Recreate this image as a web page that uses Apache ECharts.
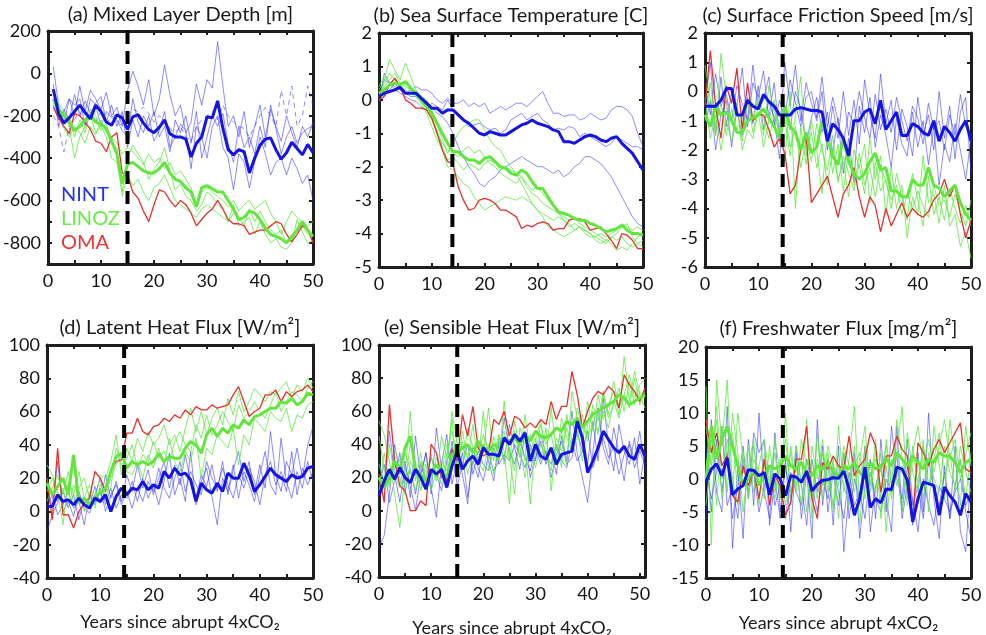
<!DOCTYPE html>
<html><head><meta charset="utf-8">
<script src="https://cdn.jsdelivr.net/npm/echarts@6/dist/echarts.min.js"></script>
<style>html,body{margin:0;padding:0;background:#fff}#c{width:986px;height:635px}</style>
</head><body><div id="c"></div>
<script>
// ---------- (a) Mixed Layer Depth, years 1..50 ----------
const aNint = [-75,-190,-235,-210,-180,-150,-185,-215,-150,-180,
-230,-245,-195,-210,-265,-205,-195,-235,-265,-280,
-255,-220,-285,-300,-300,-310,-395,-330,-300,-205,
-210,-130,-260,-360,-385,-360,-370,-470,-400,-340,
-310,-305,-360,-405,-375,-325,-355,-385,-335,-375];
const aLinoz = [-120,-170,-200,-230,-270,-250,-220,-195,-230,-240,
-260,-320,-380,-520,-430,-420,-440,-460,-470,-470,
-450,-420,-470,-500,-510,-540,-560,-630,-540,-530,
-545,-560,-560,-600,-640,-690,-680,-650,-660,-690,
-730,-760,-770,-780,-800,-770,-740,-700,-740,-770];
const aOma = [-160,-210,-250,-285,-190,-200,-230,-265,-320,-330,
-370,-300,-280,-470,-480,-560,-590,-650,-700,-620,
-550,-560,-600,-630,-600,-620,-660,-720,-690,-660,
-640,-600,-640,-690,-710,-710,-720,-760,-750,-740,
-740,-720,-700,-710,-760,-795,-760,-720,-735,-800];
const aThinB1 = [30,-150,-240,-120,-200,-60,-180,-80,-120,-170,
-90,-200,-160,-250,-80,10,-60,-150,-30,-200,
-120,40,-100,-200,-150,-280,-230,-50,-150,-30,
-70,150,-60,-250,-200,-300,-180,-350,-250,-150,
-300,-170,-250,-320,-200,-280,-350,-250,-300,-230];
const aThinB2 = [-150,-220,-180,-120,-150,-120,-250,-120,-150,-250,
-180,-210,-220,-270,-300,-120,-230,-280,-200,-320,
-270,-180,-350,-300,-240,-270,-450,-250,-300,-400,
-250,-200,-350,-400,-550,-380,-420,-540,-420,-300,
-380,-480,-420,-400,-480,-400,-450,-520,-480,-600];
const aThinB3 = [-50,-250,-170,-220,-100,-200,-130,-190,-140,-110,
-230,-150,-250,-180,-350,-220,-300,-200,-250,-180,
-300,-250,-370,-220,-280,-200,-330,-180,-400,-300,
-200,-250,-190,-330,-420,-250,-350,-300,-380,-250,
-350,-150,-260,-380,-300,-250,-330,-280,-260,-250];
const aThinBDash = [-200,-250,-370,-250,-220,-180,-250,-200,-230,-180,
-240,-200,-220,-250,-200,-170,-180,-160,-190,-230,
-200,-220,-260,-280,-250,-300,-320,-250,-220,-200,
-180,-220,-150,-200,-230,-250,-260,-300,-250,-200,
-160,-200,-250,-80,-200,-60,-250,-200,-60,-150];
const aThinG1 = [-90,-140,-180,-250,-400,-300,-250,-200,-280,-250,
-300,-400,-420,-560,-400,-340,-380,-420,-500,-450,
-420,-350,-460,-550,-520,-580,-600,-650,-620,-560,
-580,-620,-640,-700,-620,-720,-700,-680,-760,-700,
-760,-800,-780,-820,-830,-800,-690,-750,-800,-790];
const aThinG2 = [-180,-150,-230,-200,-300,-220,-280,-170,-200,-270,
-240,-330,-350,-580,-480,-530,-500,-560,-600,-540,
-520,-480,-540,-600,-620,-640,-660,-680,-640,-620,
-640,-660,-680,-700,-660,-680,-720,-640,-700,-650,
-700,-740,-760,-740,-800,-790,-740,-720,-760,-760];
const aThinG3 = [-140,-200,-260,-300,-250,-280,-330,-250,-290,-220,
-280,-300,-330,-380,-350,-370,-400,-430,-380,-420,
-400,-450,-420,-480,-460,-500,-540,-620,-560,-540,
-560,-580,-600,-630,-600,-650,-620,-600,-640,-620,
-600,-660,-700,-760,-700,-650,-680,-700,-720,-700];

// ---------- (b) Sea Surface Temperature, years 0..50 ----------
const bNint = [0.1,0.2,0.25,0.3,0.38,0.2,0.2,0.2,0.05,-0.1,
-0.25,-0.25,-0.4,-0.3,-0.3,-0.45,-0.6,-0.7,-0.85,-1.0,
-1.05,-0.95,-1.0,-1.05,-1.05,-0.95,-0.85,-0.75,-0.7,-0.6,
-0.7,-0.75,-0.8,-0.9,-0.95,-1.25,-1.25,-1.3,-1.2,-1.1,
-1.05,-1.1,-1.2,-1.25,-1.15,-1.1,-1.3,-1.45,-1.6,-1.85,-2.1];
const bLinoz = [0.2,0.3,0.45,0.5,0.45,0.55,0.35,0.2,0,-0.2,
-0.4,-0.7,-1.0,-1.3,-1.55,-1.55,-1.7,-1.8,-1.8,-1.9,
-1.75,-1.7,-1.85,-2.0,-2.05,-2.2,-2.25,-2.1,-2.2,-2.45,
-2.65,-2.65,-2.9,-3.15,-3.35,-3.4,-3.45,-3.55,-3.6,-3.6,
-3.7,-3.75,-3.85,-3.95,-3.9,-3.85,-3.75,-3.9,-4.0,-4.0,-4.05];
const bOma = [0,0.1,0.45,0.65,0.4,0.0,-0.1,-0.25,-0.25,-0.3,
-0.55,-1.0,-1.5,-1.85,-1.9,-2.6,-3.0,-3.3,-3.25,-3.0,
-2.95,-3.0,-3.1,-3.3,-3.3,-3.4,-3.5,-3.85,-3.75,-3.8,
-3.7,-3.65,-3.7,-3.9,-3.85,-3.85,-3.6,-3.55,-3.55,-3.65,
-3.9,-3.85,-3.8,-4.0,-4.2,-4.45,-4.0,-4.05,-4.2,-4.45,-4.45];
const bThinB1 = [0,0.1,0.3,0.5,0.3,0.2,0.3,0.4,0.3,0.3,
0.2,0,-0.1,0.05,-0.1,-0.1,0,-0.2,-0.1,-0.2,
-0.1,-0.4,-0.3,-0.2,-0.3,-0.2,-0.1,-0.1,-0.2,-0.05,
0.1,0.25,-0.1,-0.4,-0.4,-0.5,-0.45,-0.45,-0.6,-0.55,
-0.4,-0.5,-0.6,-0.55,-0.3,-0.2,-0.2,-0.3,-0.5,-1.0,-1.4];
const bThinB2 = [-0.1,0.8,0.5,0.3,0.2,0.1,0.0,-0.05,-0.2,-0.3,
-0.1,-0.2,-0.3,0.0,-0.3,-0.5,-0.6,-0.8,-0.75,-0.7,
-0.8,-0.9,-0.85,-1.0,-0.9,-0.6,-0.5,-0.4,-0.6,-0.5,
-0.4,-0.6,-0.7,-0.9,-0.85,-0.9,-0.8,-0.85,-1.1,-1.0,
-1.1,-1.2,-1.3,-1.4,-1.3,-1.1,-1.2,-1.3,-1.4,-1.4,-1.5];
const bThinB3 = [0.2,0.6,0.5,0.4,0.3,0.2,0.1,0.1,0,-0.1,
-0.2,-0.4,-0.5,-0.7,-1.0,-1.4,-1.7,-2.0,-2.2,-2.5,
-2.6,-2.4,-2.3,-2.1,-2.0,-1.9,-1.8,-1.7,-1.8,-1.9,
-2.0,-2.0,-2.1,-2.2,-2.1,-2.3,-2.2,-2.0,-1.9,-1.7,
-1.7,-1.8,-1.9,-2.1,-2.3,-2.6,-2.9,-3.2,-3.5,-3.7,-3.8];
const bThinG1 = [0.3,0.6,1.2,0.9,0.6,1.1,0.7,0.3,0.1,0,
-0.3,-0.7,-1.2,-1.6,-1.3,-1.0,-0.8,-0.7,-0.6,-0.6,
-0.9,-1.2,-1.4,-1.5,-1.8,-2.0,-2.2,-2.5,-2.8,-3.1,
-3.3,-3.5,-3.8,-3.9,-4.0,-4.1,-4.0,-3.9,-3.8,-4.0,
-4.1,-4.1,-4.2,-4.3,-4.1,-4.2,-4.1,-4.3,-4.4,-4.3,-4.2];
const bThinG2 = [0.1,0.5,0.8,0.6,0.4,0.3,0.2,0.1,-0.1,-0.4,
-0.8,-1.2,-1.5,-2.0,-2.1,-2.3,-2.5,-2.6,-2.9,-3.1,
-3.3,-3.2,-3.1,-3.0,-2.9,-2.95,-3.0,-2.9,-3.0,-3.1,
-3.3,-3.4,-3.5,-3.6,-3.5,-3.6,-3.8,-3.7,-3.8,-3.9,
-4.0,-4.1,-4.0,-4.1,-4.0,-3.9,-3.7,-3.8,-3.9,-3.8,-3.9];
const bThinG3 = [0.4,0.7,0.5,0.6,0.3,0.5,0.4,0.2,-0.1,-0.2,
-0.5,-0.9,-1.4,-1.8,-1.7,-1.9,-2.1,-1.9,-2.0,-2.1,
-1.9,-1.8,-1.9,-2.1,-2.0,-2.1,-2.2,-2.3,-2.5,-2.7,
-2.6,-2.8,-3.0,-3.2,-3.4,-3.6,-3.7,-3.9,-3.8,-3.9,
-4.0,-4.2,-4.3,-4.2,-4.1,-4.0,-3.8,-3.7,-4.1,-4.3,-4.4];
const bThinG4 = [0.2,0.4,0.6,0.8,0.5,0.4,0.3,0.1,0,-0.3,
-0.6,-1.0,-1.3,-1.5,-1.6,-1.7,-1.5,-1.4,-1.6,-1.5,
-1.7,-1.9,-2.0,-2.2,-2.3,-2.4,-2.5,-2.3,-2.6,-2.8,
-2.9,-3.1,-3.2,-3.3,-3.4,-3.5,-3.6,-3.5,-3.7,-3.8,
-3.9,-4.0,-4.1,-4.2,-4.3,-4.5,-4.4,-4.5,-4.3,-4.1,-4.0];

// ---------- (c) Surface Friction Speed, years 0..50 ----------
const cNint = [-0.5,-0.5,-0.5,-0.3,0.1,0.1,-0.8,-0.8,-0.3,-0.5,
-0.6,-0.1,-0.35,-0.5,-0.8,-0.8,-0.8,-0.6,-0.55,-0.6,
-0.65,-0.65,-0.7,-1.7,-1.1,-1.3,-1.6,-2.2,-1.0,-1.0,
-0.7,-0.6,-1.1,-0.3,-1.3,-1.0,-0.7,-1.5,-1.5,-1.1,
-1.2,-1.4,-1.5,-1.0,-1.7,-1.2,-1.4,-1.7,-1.3,-1.0,-1.7];
const cLinoz = [-0.8,-1.2,-0.5,-0.8,-0.7,-1.0,-1.4,-1.4,-1.0,-0.9,
-0.8,-0.6,-0.9,-1.2,-1.6,-0.5,-1.2,-1.4,-2.0,-1.4,
-2.1,-1.9,-1.0,-1.6,-2.2,-2.5,-1.6,-2.4,-2.8,-3.0,
-2.8,-2.4,-2.1,-2.7,-2.6,-3.4,-3.4,-3.6,-3.6,-3.0,
-3.2,-3.2,-2.6,-3.2,-3.3,-3.6,-3.4,-3.2,-3.8,-4.2,-4.4];
const cOma = [-0.5,1.4,-0.5,-1.6,0.2,-0.4,0.8,-1.3,0.3,-1.0,
-0.8,-0.8,-1.3,-1.9,-1.6,-2.1,-3.5,-3.2,-2.0,-1.5,
-3.8,-3.5,-3.2,-2.9,-3.6,-4.3,-3.5,-3.2,-2.6,-3.6,
-4.3,-3.6,-3.9,-4.8,-4.0,-4.6,-4.2,-3.8,-4.3,-4.0,
-4.2,-4.3,-4.1,-3.7,-3.5,-3.0,-3.6,-3.2,-4.2,-5.0,-4.4];
const cThinB1 = [-0.5,1.0,-1.5,0.5,-1.2,0.0,-0.5,0.8,-1.2,0.3,
-0.2,0.7,-0.9,0.3,-1.5,1.0,-0.5,0.9,-1.0,0.3,
-0.4,-1.0,0.0,-2.0,-0.5,-1.6,0.0,-1.5,-0.3,-1.8,
0.4,-0.8,-1.6,0.6,-1.1,-0.3,-2.0,-0.6,-1.2,-2.2,
-0.2,-1.5,-0.8,-2.0,0.0,-1.6,-0.5,-2.3,-0.7,-0.2,-2.8];
const cThinB2 = [-1.2,-0.3,-2.0,-0.8,-0.3,-1.9,-0.6,-1.5,-0.2,-1.1,
0.2,-1.3,-0.3,-0.9,-2.3,-0.5,-1.3,0.0,-0.6,-1.8,
-0.9,-0.2,-1.4,-0.7,-2.1,-0.9,-2.8,-1.6,-3.1,-0.5,
-1.4,-0.2,-1.9,-0.8,-1.5,-2.6,-0.9,-1.8,-2.2,-0.7,
-1.9,-1.0,-2.5,-1.2,-3.2,-1.8,-2.4,-1.1,-2.0,-3.0,-1.6];
const cThinB3 = [0.3,-0.8,0.6,-0.5,-0.1,-1.0,0.2,-0.4,-1.0,0.9,
-0.6,-0.3,0.5,-1.2,-0.3,-0.9,0.4,-0.4,-1.2,-0.2,
0.0,-0.9,0.5,-1.2,-0.2,-1.0,-1.8,-0.7,-1.1,0.0,
-0.9,-1.6,-0.1,-1.3,-0.6,-1.4,-0.2,-1.0,-1.7,-0.5,
-0.9,-1.8,-0.4,-1.3,-1.0,-2.0,-0.8,-1.5,-0.1,-1.2,-1.5];
const cThinG1 = [0.9,-0.3,-1.5,1.3,-0.2,-1.0,-0.5,-1.7,-0.3,-1.0,
-0.2,-1.5,0.2,-0.7,-1.1,-2.4,0.0,-4.0,-1.2,-2.5,
-1.0,-2.0,-3.5,-1.2,-2.8,-1.8,-3.4,-2.0,-3.2,-2.5,
-3.5,-1.6,-3.0,-2.2,-4.2,-2.6,-4.0,-3.2,-5.0,-3.6,
-4.2,-2.2,-3.8,-3.5,-4.5,-3.2,-4.6,-4.2,-5.3,-4.8,-5.7];
const cThinG2 = [-0.2,-1.6,-0.8,-2.0,-1.0,-1.7,-0.4,-2.0,-1.3,-1.6,
-0.7,-1.9,-1.0,-0.3,-1.8,-0.9,-2.2,-0.8,0.5,-2.2,
-1.4,-2.6,-1.8,-3.2,-2.0,-3.0,-2.4,-3.6,-2.0,-2.6,
-1.8,-3.8,-2.4,-3.4,-3.0,-4.0,-2.8,-3.6,-4.4,-2.8,
-3.7,-4.6,-2.9,-4.2,-3.6,-4.4,-3.3,-4.0,-4.5,-3.9,-4.6];
const cThinG3 = [-1.0,0.3,-1.2,-0.4,-1.5,-0.6,-1.3,-0.9,-0.2,-1.4,
-0.5,-0.9,-1.6,-0.8,-1.4,-0.6,-1.9,-1.2,-2.6,-1.6,
-2.4,-1.1,-2.0,-2.7,-1.5,-3.1,-2.2,-2.8,-3.4,-2.1,
-3.2,-2.6,-3.6,-2.5,-3.1,-3.7,-3.2,-4.2,-3.5,-4.0,
-3.4,-3.9,-4.3,-3.2,-3.9,-3.7,-4.3,-3.5,-4.1,-4.6,-3.7];

// ---------- (d) Latent Heat Flux, years 0..50 ----------
const dNint = [3,3,10,6,7,4,8,4,2,8,
6,10,0,9,14,10,14,13,18,13,
16,14,24,20,26,22,23,19,6,17,
13,11,17,12,23,20,20,29,22,12,
16,21,26,22,20,18,22,20,21,26,27];
const dLinoz = [17,10,15,20,10,34,5,8,4,8,
11,14,24,33,35,26,30,28,30,28,
30,35,30,33,32,32,38,42,40,35,
46,50,45,50,47,52,50,55,52,57,
58,60,62,62,66,65,68,64,66,71,70];
const dOma = [20,-5,38,-2,-2,-10,0,5,8,24,
20,12,24,30,31,47,47,56,48,46,
51,52,56,54,58,56,61,58,63,61,
61,64,62,63,64,70,75,66,57,60,
62,70,70,73,66,72,69,72,73,76,72];
const dThinB1 = [-12,-2,5,12,2,10,-5,8,3,15,
5,22,8,18,6,22,12,28,14,25,
10,20,30,14,28,16,34,18,8,22,
15,28,12,30,10,25,36,18,30,10,
28,14,48,22,12,30,22,38,20,40,51];
const dThinB2 = [8,4,30,0,6,-3,12,2,-1,10,
20,4,14,2,10,8,18,6,20,8,
16,4,18,35,10,20,6,36,4,18,
26,9,-8,20,12,28,8,24,16,6,
22,36,16,10,44,18,8,24,14,30,18];
const dThinB3 = [2,10,-2,4,12,2,6,-8,10,4,
14,0,10,16,4,12,2,14,6,18,
12,26,14,8,20,30,12,24,16,10,
30,20,14,26,16,8,22,14,26,18,
4,22,30,16,24,12,36,10,26,16,24];
const dThinG1 = [28,22,12,-8,18,10,24,8,16,6,
22,20,30,46,22,38,30,44,36,48,
40,44,52,40,46,36,50,62,48,60,
46,56,62,52,68,58,72,60,66,74,
70,66,72,70,74,78,68,76,72,80,74];
const dThinG2 = [12,20,6,14,2,16,10,0,12,4,
14,8,20,28,34,24,22,30,20,34,
26,38,28,44,30,24,36,30,44,20,
38,34,46,42,38,50,28,46,40,56,
52,48,60,56,54,62,48,58,56,64,66];
const dThinG3 = [6,14,22,10,24,4,14,20,8,2,
16,10,14,38,28,32,40,26,34,30,
42,32,36,30,42,48,40,36,52,44,
58,46,52,60,54,48,64,56,60,66,
60,56,64,72,60,66,72,70,66,74,78];

// ---------- (e) Sensible Heat Flux, years 0..51 ----------
const eNint = [9,18,25,19,26,20,17,25,20,13,
25,22,25,14,27,36,25,30,33,28,
38,34,34,33,44,40,46,42,47,30,
40,33,31,38,28,34,35,36,54,44,
23,30,38,48,43,38,35,39,33,31,40,33];
const eLinoz = [20,14,20,30,25,38,45,25,22,18,
22,28,24,20,34,35,38,40,35,42,
38,36,40,38,44,42,44,40,46,42,
48,45,44,46,50,48,54,52,56,50,
54,58,60,62,64,66,70,68,64,66,68,70];
const eOma = [22,5,64,30,15,12,0,0,6,3,
40,35,20,18,37,30,58,45,63,38,
33,35,55,52,60,45,57,55,50,53,
50,55,52,66,55,63,63,84,70,50,
60,68,72,70,75,72,62,82,76,72,66,74];
const eThinB1 = [-22,-15,10,40,22,30,8,45,20,35,
10,50,25,18,42,20,35,8,30,20,
40,30,18,42,30,52,38,25,48,20,
32,42,28,38,22,45,30,60,35,20,
5,35,62,38,28,50,35,18,42,30,48,25];
const eThinB2 = [30,15,48,22,5,28,15,0,22,35,
14,-4,28,46,16,32,22,4,38,26,
18,34,24,30,56,36,28,44,32,24,
38,28,36,20,34,42,28,32,48,36,
28,54,30,68,40,24,52,36,28,44,16,35];
const eThinB3 = [15,28,5,18,35,12,25,10,28,18,
32,22,12,30,38,15,28,40,22,36,
28,24,38,28,34,30,40,34,26,40,
30,46,34,28,40,30,26,42,30,36,
48,26,36,44,32,38,22,34,40,26,36,28];
const eThinG1 = [54,46,30,10,-10,22,60,18,35,15,
25,20,45,32,55,20,48,30,52,28,
60,24,45,30,66,34,10,50,40,4,
42,55,30,62,36,48,28,72,56,40,
66,48,70,55,64,72,58,93,66,84,70,62];
const eThinG2 = [28,18,40,22,14,35,25,12,30,20,
18,32,22,40,26,45,38,32,28,40,
35,62,30,44,36,4,48,32,58,36,
44,30,50,12,40,26,58,42,48,30,
52,60,46,70,56,64,74,60,78,64,72,68];
const eThinG3 = [12,35,16,28,20,10,30,22,14,28,
12,24,16,34,48,28,42,22,36,30,
24,40,34,46,28,38,24,42,30,38,
26,40,34,24,44,36,50,38,44,58,
42,54,48,60,50,66,56,70,62,80,64,72];
const eThinG4 = [45,25,14,36,30,16,40,28,12,22,
34,18,30,24,60,40,26,50,38,34,
46,36,22,40,48,30,54,38,20,46,
34,52,40,46,30,56,44,36,62,50,
44,64,54,72,58,78,62,70,82,68,76,80];

// ---------- (f) Freshwater Flux, years 0..50 ----------
const fNint = [-0.5,1.5,2.3,0.5,3.2,-2.4,-1.5,-1,1.4,1.3,
0.5,1,-2.4,0.8,0,-2.5,0.5,0.3,-0.5,1.2,
-1.8,-0.8,-0.2,-0.1,0.2,0.1,1.2,-1.5,-5.5,-3,
1.8,-4.3,-3,-3.6,-1.5,-1.6,1.8,1.5,-0.2,-6.5,
-3,-0.5,-0.7,-1,-5.5,-1.2,-2.5,-3.5,-5.5,-2.2,-3.5];
const fLinoz = [0,8,3,6,8,5,2,-1,0,1.5,
-1,0.5,2,1.5,2,3.5,2,1.5,2.5,1,
0.5,2,1.5,2.5,1,0.5,2,1.5,2.5,1,
0,2.5,1.5,2,3,2,4,3,2,3.5,
2.5,1.5,3,2.5,4,3.5,3.5,2.5,1,2.5,3];
const fOma = [9,4,7,2,3.5,-2.5,-3.5,2,-1,1.5,
-3,3,-4,0.5,-1,-5.5,-3.5,3,3,8,
-3,-6,2.5,1.5,3.5,2,1.5,6.5,0.5,2,
3,7,5,-2,3.5,3.5,6.5,4.5,3.5,-6.5,
5.5,4,2,4.5,6,4,5.5,7,8.5,1.5,1];
const fThinB1 = [-6,9,-2,-5,11,-10.5,2,-9,6,-4,
10,-2,-6,7,-5,3,-8,4,-6,1,
-9,9,-4,3,-7,5,-11,-2,4,-9,
-1,3,-6,6,-3,-8,8,-5,2,-7,
4,-5,10,-3,-9,2,-6,5,-8,-11,1];
const fThinB2 = [5,-5,6,-2,4,-6,-1,5,-3,7,
4,6,-7,0,-6,2,-3,5,-1,-7,
3,-2,5,-5,1,-4,4,-6,0,-3,
5,-8,-1,2,-5,8,0,-3,6,-4,
-1,-6,3,-2,-4,1,-6,-1,3,-5,-9];
const fThinB3 = [2,-3,1,8,-4,-1,-6,3,-2,1,
-5,-1,2,-4,-1,-6,1,-2,-4,3,
-1,-5,0,-3,2,-2,-6,1,-4,-2,
-6,1,-3,-5,0,-2,4,-6,-1,-3,
-8,0,-4,-7,-1,-3,-5,-2,0,-4,-2];
const fThinG1 = [14,-10,15,5,15,-2,10,3,-3,5,
-1,3,-2,4,-3,10,-4,5,-1,9,
-6,7,-3,4,-5,8,-2,3,11,-4,
5,-1,6,-6,2,-3,4,11,-3,5,
-1,6,-5,8,2,-3,9,3,-4,8,2];
const fThinG2 = [2,6,-4,8,-2,10,4,-5,2,6,
-4,4,-1,6,1,-4,5,-1,3,-5,
5,0,6,-2,3,-6,4,-1,5,-7,
3,-1,4,-3,6,-1,2,-5,7,1,
-2,5,-1,3,7,0,4,-2,5,1,-2];
const fThinG3 = [-4,4,9,-3,6,0,-4,4,-2,3,
1,-3,5,-2,2,6,-2,2,-4,3,
1,-3,4,0,-4,2,-1,-4,2,4,
-3,1,-2,4,-8,3,-1,2,-4,3,
1,-3,4,0,-2,5,1,-1,3,-3,4];
const fThinG4 = [8,2,11,0,4,7,-2,1,5,-2,
2,6,0,-3,3,1,4,-2,6,2,
-3,3,-1,5,2,-1,5,2,-2,3,
8,-2,3,1,5,-1,9,3,-1,4,
8,2,6,1,5,9,3,6,0,4,7];

// ---------- shared text ----------
const legendNames = ['NINT', 'LINOZ', 'OMA'];
const xAxisName = 'Years since abrupt 4xCO\u2082';
const xTickLabels = [0, 10, 20, 30, 40, 50];

const FONT = 'Lato, "Open Sans", "DejaVu Sans", sans-serif';
const C_BLUE = '#1414e4', C_BLUE_T = 'rgba(45,45,255,0.55)';
const C_GREEN = '#62e63e', C_GREEN_T = 'rgba(95,232,65,0.8)';
const C_RED = '#e8302c';

const panels = [
 {title:'(a) Mixed Layer Depth [m]', start:1, xmax:50, ymin:-900, ymax:200, yint:100, ylab:200, vline:15,
  nint:aNint, linoz:aLinoz, oma:aOma, thinB:[aThinB1,aThinB2,aThinB3], dashB:[aThinBDash], thinG:[aThinG1,aThinG2,aThinG3],
  g:{left:48, top:31, width:265, height:233}, ty:15},
 {title:'(b) Sea Surface Temperature [C]', start:0, xmax:50, ymin:-5, ymax:2, yint:1, ylab:1, vline:13.9,
  nint:bNint, linoz:bLinoz, oma:bOma, thinB:[bThinB1,bThinB2,bThinB3], dashB:[], thinG:[bThinG1,bThinG2,bThinG3,bThinG4],
  g:{left:379, top:33, width:264, height:234}, ty:16},
 {title:'(c) Surface Friction Speed [m/s]', start:0, xmax:50, ymin:-6, ymax:2, yint:1, ylab:1, vline:14.6,
  nint:cNint, linoz:cLinoz, oma:cOma, thinB:[cThinB1,cThinB2,cThinB3], dashB:[], thinG:[cThinG1,cThinG2,cThinG3],
  g:{left:705, top:33, width:266, height:234}, ty:16},
 {title:'(d) Latent Heat Flux [W/m\u00b2]', start:0, xmax:50, ymin:-40, ymax:100, yint:20, ylab:20, vline:14.5,
  nint:dNint, linoz:dLinoz, oma:dOma, thinB:[dThinB1,dThinB2,dThinB3], dashB:[], thinG:[dThinG1,dThinG2,dThinG3],
  g:{left:47, top:345, width:266, height:233}, ty:328, xl:622},
 {title:'(e) Sensible Heat Flux [W/m\u00b2]', start:0, xmax:51, ymin:-40, ymax:100, yint:20, ylab:20, vline:15,
  nint:eNint, linoz:eLinoz, oma:eOma, thinB:[eThinB1,eThinB2,eThinB3], dashB:[], thinG:[eThinG1,eThinG2,eThinG3,eThinG4],
  g:{left:379, top:345, width:266, height:232}, ty:328, xl:628},
 {title:'(f) Freshwater Flux [mg/m\u00b2]', start:0, xmax:50, ymin:-15, ymax:20, yint:5, ylab:5, vline:14.5,
  nint:fNint, linoz:fLinoz, oma:fOma, thinB:[fThinB1,fThinB2,fThinB3], dashB:[], thinG:[fThinG1,fThinG2,fThinG3,fThinG4],
  g:{left:706, top:347, width:265, height:231}, ty:329, xl:623}
];

const grids = [], xAxes = [], yAxes = [], series = [], graphics = [];
const isMult = (v, m) => Math.abs(Math.round(v / m) * m - v) < 1e-9;
const axisLine = {show:true, onZero:false, lineStyle:{color:'#1e1e1e', width:3}};
const tick = {show:true, inside:true, length:4, lineStyle:{color:'#1e1e1e', width:2}};

panels.forEach((p, i) => {
  grids.push(Object.assign({containLabel:false}, p.g));
  xAxes.push({type:'value', gridIndex:i, position:'bottom', min:0, max:p.xmax, interval:5, axisLine, axisTick:tick, splitLine:{show:false},
    axisLabel:{show:true, fontSize:18, color:'#141414', fontFamily:FONT, margin:8,
      formatter:v => xTickLabels.indexOf(v) >= 0 ? String(v) : ''}});
  xAxes.push({type:'value', gridIndex:i, position:'top', min:0, max:p.xmax, interval:5, axisLine, axisTick:tick,
    splitLine:{show:false}, axisLabel:{show:false}});
  yAxes.push({type:'value', gridIndex:i, position:'left', min:p.ymin, max:p.ymax, interval:p.yint, axisLine, axisTick:tick, splitLine:{show:false},
    axisLabel:{show:true, fontSize:18, color:'#141414', fontFamily:FONT, margin:7,
      formatter:v => isMult(v, p.ylab) ? String(Math.round(v)) : ''}});
  yAxes.push({type:'value', gridIndex:i, position:'right', min:p.ymin, max:p.ymax, interval:p.yint, axisLine, axisTick:tick,
    splitLine:{show:false}, axisLabel:{show:false}});
  const xi = 2 * i, yi = 2 * i;
  const pts = arr => arr.map((v, k) => [p.start + k, v]);
  const line = (arr, color, width, z, type) => series.push({type:'line', xAxisIndex:xi, yAxisIndex:yi, data:pts(arr),
    symbol:'none', showSymbol:false, silent:true, animation:false, clip:true, z,
    lineStyle:{color, width, type:type || 'solid'}});
  p.thinB.forEach(a => line(a, C_BLUE_T, 1, 2));
  p.dashB.forEach(a => line(a, C_BLUE_T, 1, 2, [5, 4]));
  p.thinG.forEach(a => line(a, C_GREEN_T, 1, 3));
  line(p.oma, C_RED, 1.3, 4);
  line(p.linoz, C_GREEN, 3, 5);
  line(p.nint, C_BLUE, 3, 6);
  series.push({type:'line', xAxisIndex:xi, yAxisIndex:yi, data:[[p.vline, p.ymin], [p.vline, p.ymax]],
    symbol:'none', silent:true, animation:false, z:8, lineStyle:{color:'#000', width:4, type:[13, 7]}});
  graphics.push({type:'text', x:p.g.left + p.g.width / 2, y:p.ty, z:20,
    style:{text:p.title, fontSize:20, fontFamily:FONT, fill:'#1a1a1a', align:'center', verticalAlign:'middle',
      textAlign:'center', textVerticalAlign:'middle'}});
  if (p.xl) graphics.push({type:'text', x:p.g.left + p.g.width / 2, y:p.xl, z:20,
    style:{text:xAxisName, fontSize:18, fontFamily:FONT, fill:'#1a1a1a', align:'center', verticalAlign:'middle',
      textAlign:'center', textVerticalAlign:'middle'}});
});

const legendColors = ['#2233ee', '#66ee44', '#ee3333'];
legendNames.forEach((name, k) => {
  graphics.push({type:'text', x:61, y:195 + k * 24, z:20,
    style:{text:name, fontSize:20, fontFamily:FONT, fill:legendColors[k],
      align:'left', verticalAlign:'middle', textAlign:'left', textVerticalAlign:'middle'}});
});

const chart = echarts.init(document.getElementById('c'), null, {renderer:'canvas'});
chart.setOption({backgroundColor:'#fff', animation:false, grid:grids, xAxis:xAxes, yAxis:yAxes, series, graphic:graphics});
</script></body></html>
